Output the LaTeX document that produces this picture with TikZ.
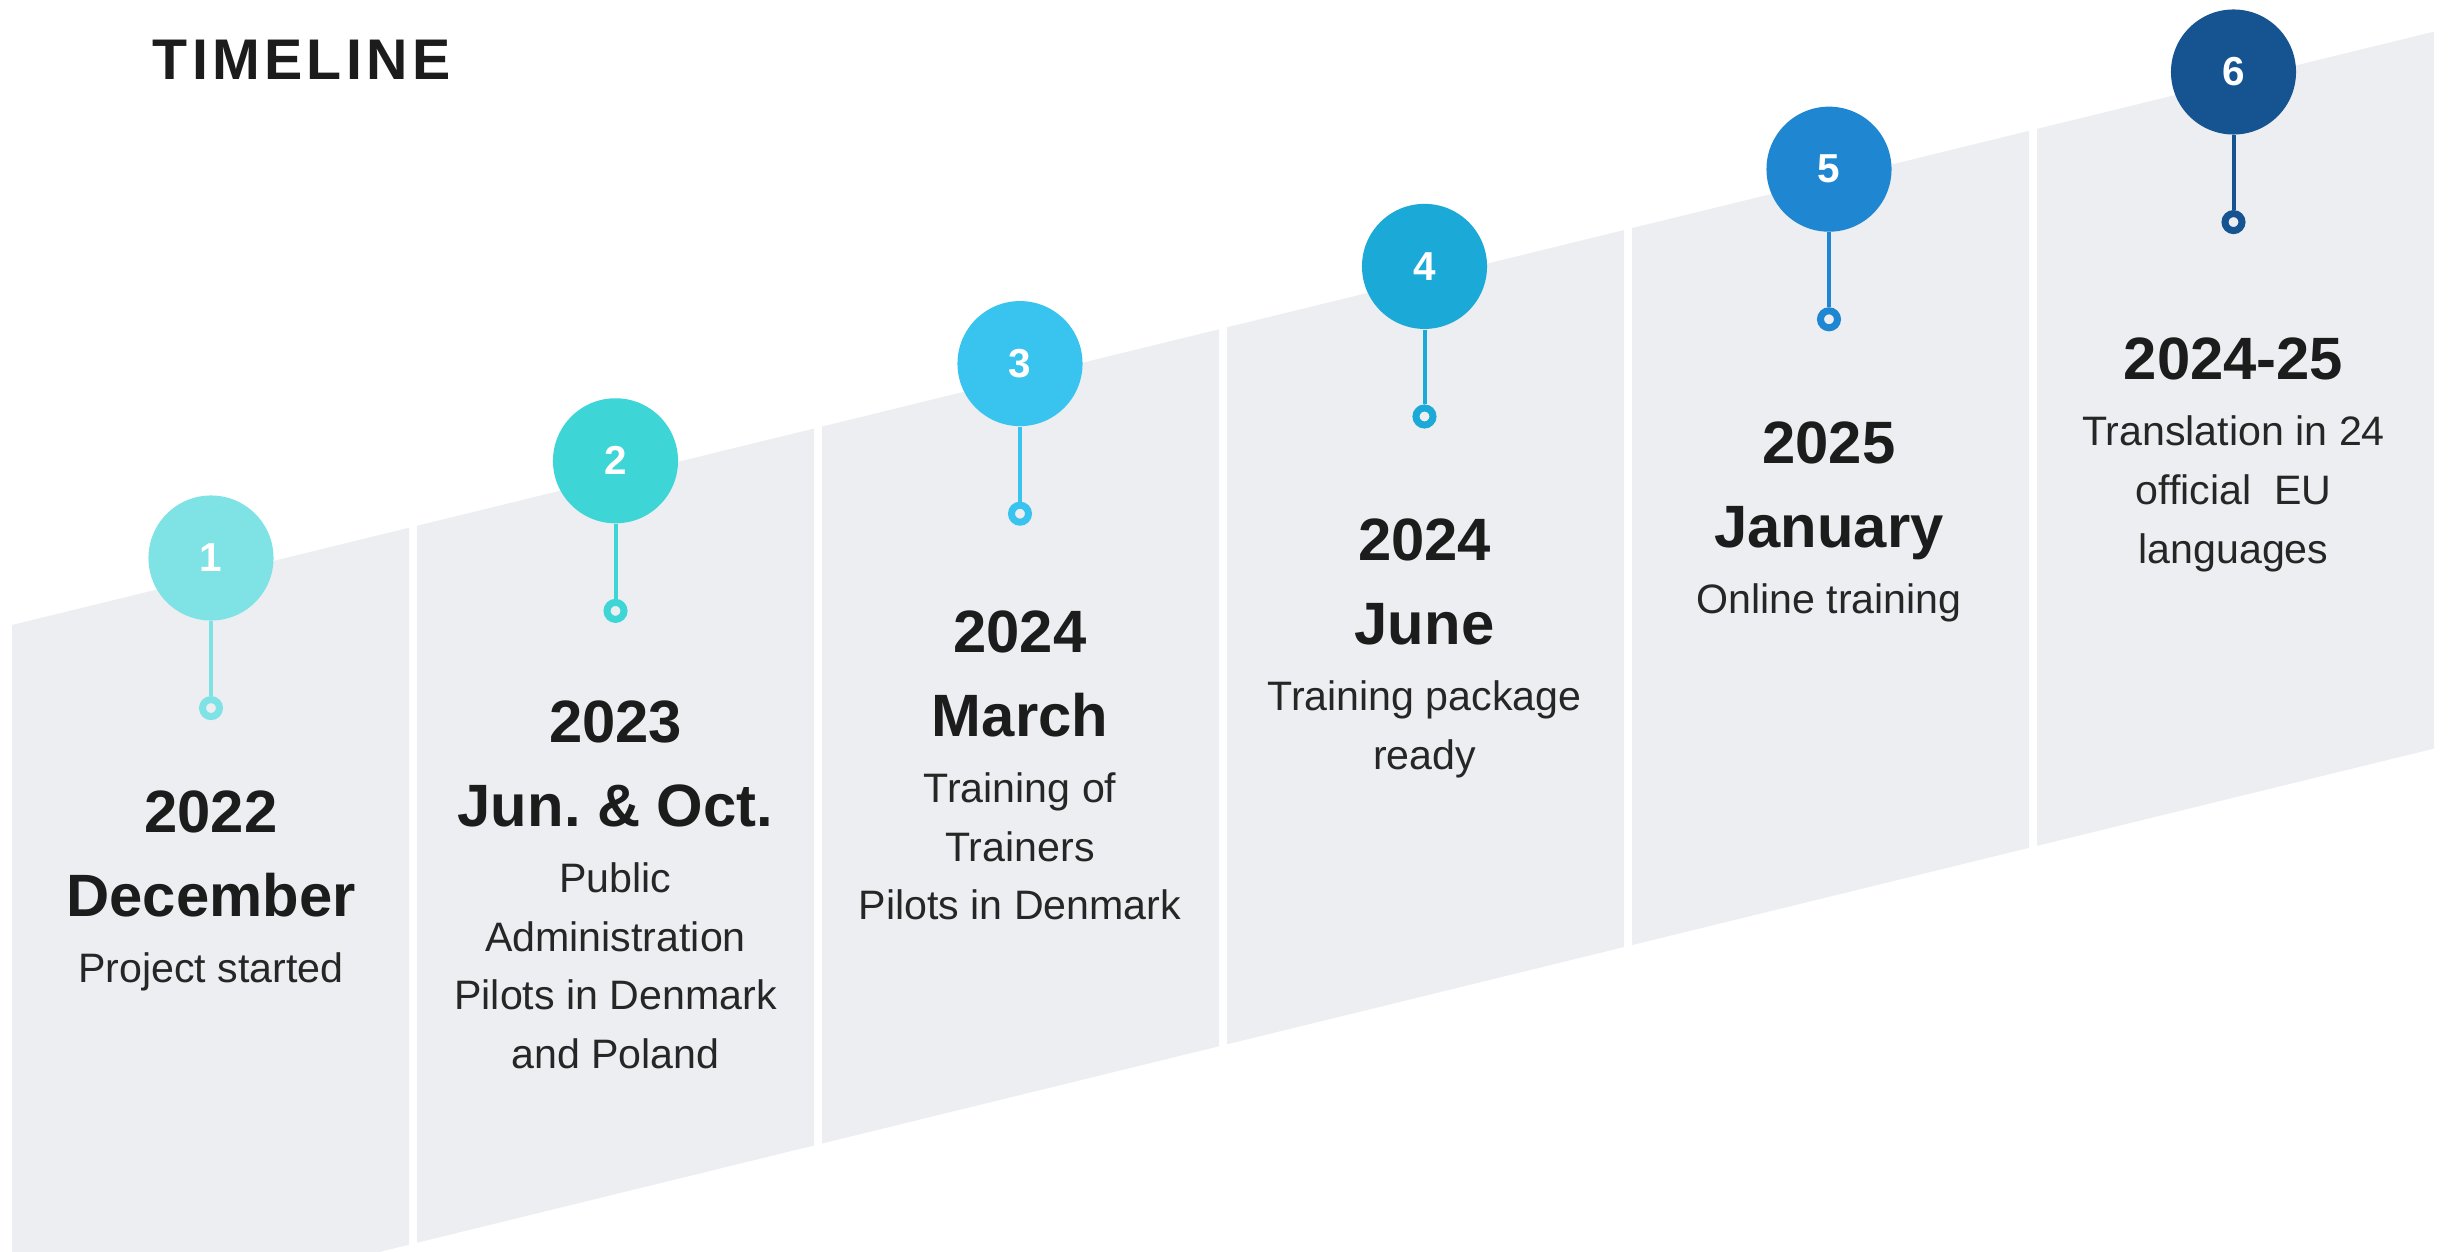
\documentclass[tikz,border=0pt]{standalone}
\usepackage{fontspec}
\setmainfont{Liberation Sans}
\usetikzlibrary{positioning}
\frenchspacing

\definecolor{panelgray}{HTML}{ECEEF1}
\definecolor{inkdark}{HTML}{1C1C1C}
\definecolor{inkbody}{HTML}{262626}
\definecolor{stepA}{HTML}{7FE3E6}
\definecolor{stepB}{HTML}{3DD5D6}
\definecolor{stepC}{HTML}{38C4EE}
\definecolor{stepD}{HTML}{1BA9D7}
\definecolor{stepE}{HTML}{1F87D2}
\definecolor{stepF}{HTML}{165391}

\begin{document}
\begin{tikzpicture}[x=0.01cm, y=-0.01cm,
    bubble/.style={circle, minimum size=1.25cm, inner sep=0pt, text=white,
      font=\fontsize{11.5}{12}\selectfont\bfseries},
    ring/.style={circle, draw, line width=0.7mm, fill=panelgray, minimum size=1.7mm, inner sep=0pt},
    stem/.style={line width=0.4mm},
    datetext/.style={align=center, inner sep=0pt, text depth=0pt, text=inkdark,
      font=\fontsize{17}{23.8}\selectfont\bfseries},
    desctext/.style={align=center, inner sep=0pt, text=inkbody,
      font=\fontsize{11.7}{16.7}\selectfont}]
        \def\slope{0.245}
        \def\panelw{397}
        \def\panelh{717}

        \useasboundingbox (0,0) rectangle (2450,1252) ;
        \clip (0,0) rectangle (2450,1252) ;

        \node [anchor=base west, inner sep=0pt, text=inkdark,
          font=\fontsize{16.3}{18}\selectfont\bfseries\addfontfeature{LetterSpace=7.5}] (title) at (152,80) {TIMELINE} ;

        \foreach \i in {0,...,5}
          \fill [panelgray] (12+405*\i, {625-\slope*405*\i}) -- ++(\panelw, -\slope*\panelw)
            -- ++(0,\panelh) -- ++(-\panelw, \slope*\panelw) -- cycle ;

        \foreach \i/\clr/\ytop/\when/\what in {
            1/stepA/790/{2022\\December}/{Project started},
            2/stepB/700/{2023\\Jun. \& Oct.}/{Public\\Administration\\Pilots in Denmark\\and Poland},
            3/stepC/610/{2024\\March}/{Training of\\Trainers\\Pilots in Denmark},
            4/stepD/518/{2024\\June}/{Training package\\ready},
            5/stepE/421/{2025\\January}/{Online training},
            6/stepF/337/{2024-25}/{Translation in 24\\official~ EU\\languages}} {
          \node [bubble, fill=\clr] (b\i) at ({211+404.5*(\i-1)}, {558-97.2*(\i-1)}) {\i} ;
          \node [ring, draw=\clr] (r\i) at ([yshift=-1.5cm] b\i.center) {} ;
          \draw [stem, \clr] (b\i) -- (r\i) ;
          \node [datetext, anchor=north] (d\i) at ({211+404.5*(\i-1)}, \ytop) {\when} ;
          \node [desctext, below=0.35cm of d\i] (t\i) {\what} ;
        }
      \end{tikzpicture}
\end{document}
